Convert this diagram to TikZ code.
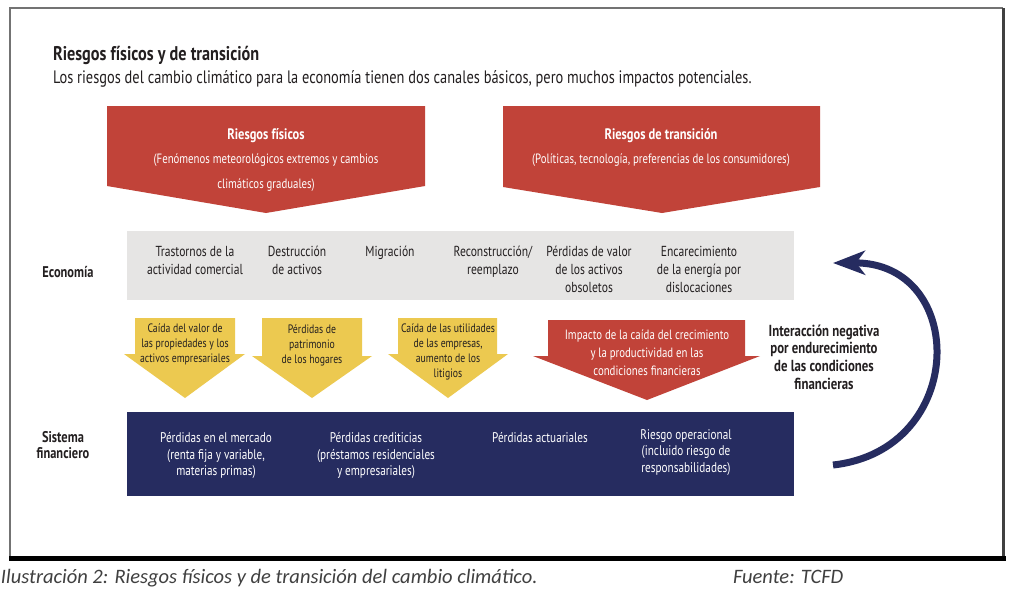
\documentclass[tikz,border=0pt]{standalone}
\usepackage{fontspec}
\setmainfont{PT Sans}[FakeStretch=0.8]
\newfontfamily\titlefont{PT Sans}[FakeStretch=0.82]
\newfontfamily\capfont{Carlito}
\usetikzlibrary{arrows.meta}
\definecolor{redA}{RGB}{193,67,57}
\definecolor{yellowA}{RGB}{236,201,80}
\definecolor{greyA}{RGB}{230,229,228}
\definecolor{navyA}{RGB}{38,44,96}
\definecolor{inkA}{RGB}{35,31,32}
\definecolor{capA}{RGB}{64,64,64}
\newcommand{\redhead}[1]{{\titlefont\bfseries\fontsize{15.2}{24.5}\selectfont #1}}
\begin{document}
\begin{tikzpicture}[x=1pt,y=-1pt,
  every node/.style={inner sep=0pt, outer sep=0pt},
  txt/.style={align=center, anchor=base, text=inkA},
  econ/.style={txt, font=\fontsize{14.5}{18}\selectfont},
  yel/.style={txt, font=\fontsize{12.2}{15}\selectfont},
  redtxt/.style={align=center, anchor=base, text=white, font=\fontsize{13.5}{24.5}\selectfont},
  midred/.style={align=center, anchor=base, text=white, font=\fontsize{13.5}{18}\selectfont},
  bluetxt/.style={align=center, anchor=base, text=white, font=\fontsize{14}{16.5}\selectfont},
  rowlabel/.style={txt, font=\fontsize{15.5}{16}\selectfont\bfseries},
  interlabel/.style={txt, font=\fontsize{16}{17.8}\selectfont\bfseries},
  capt/.style={anchor=base west, text=capA, font=\capfont\itshape\fontsize{20.5}{22}\selectfont}
]
\useasboundingbox (0,0) rectangle (1024,597);
\fill[white] (0,0) rectangle (1024,597);

% frame
\draw[line width=1.5pt, black!55] (10,557) -- (10,8) -- (1003,8);
\draw[line width=2.5pt, black!75] (1003.5,8) -- (1003.5,558);
\draw[line width=5pt, black] (9,558.5) -- (1006,558.5);

% title
\node[anchor=base west, text=inkA, font=\titlefont\fontsize{19.8}{22}\selectfont\bfseries] (title) at (53,60) {Riesgos físicos y de transición};
\node[anchor=base west, text=inkA, font=\fontsize{18}{20}\selectfont] (subtitle) at (53,83) {Los riesgos del cambio climático para la economía tienen dos canales básicos, pero muchos impactos potenciales.};

% red top arrows
\fill[redA] (107,106) -- (425,106) -- (425,186) -- (266,213) -- (107,186) -- cycle;
\fill[redA] (503,106) -- (820,106) -- (820,187) -- (662,213) -- (503,187) -- cycle;
\node[redtxt] (fis) at (266,188) {\redhead{Riesgos físicos}\\(Fenómenos meteorológicos extremos y cambios\\climáticos graduales)};
\node[redtxt] (tra) at (661,163.5) {\redhead{Riesgos de transición}\\(Políticas, tecnología, preferencias de los consumidores)};

% economy band
\fill[greyA] (127,231) rectangle (794,300);
\node[rowlabel] (eco) at (68,277) {Economía};
\node[econ] (e1) at (195,274) {Trastornos de la\\actividad comercial};
\node[econ] (e2) at (297,274) {Destrucción\\de activos};
\node[econ] (e3) at (390,256) {Migración};
\node[econ] (e4) at (493,274) {Reconstrucción/\\reemplazo};
\node[econ] (e5) at (589,292) {Pérdidas de valor\\de los activos\\obsoletos};
\node[econ] (e6) at (699,292) {Encarecimiento\\de la energía por\\dislocaciones};

% yellow arrows
\fill[yellowA] (135,318) -- (235,318) -- (235,354) -- (245,354) -- (185,398) -- (124,354) -- (135,354) -- cycle;
\fill[yellowA] (262,318) -- (362,318) -- (362,356) -- (372,356) -- (312,398) -- (252,356) -- (262,356) -- cycle;
\fill[yellowA] (398,318) -- (497,318) -- (497,354) -- (508,354) -- (448,398) -- (388,354) -- (398,354) -- cycle;
\node[yel] (y1) at (185,362) {Caída del valor de\\las propiedades y los\\activos empresariales};
\node[yel] (y2) at (312,363) {Pérdidas de\\patrimonio\\de los hogares};
\node[yel] (y3) at (448,377) {Caída de las utilidades\\de las empresas,\\aumento de los\\litigios};

% middle red arrow
\fill[redA] (548,320) -- (745,320) -- (745,356) -- (760,356) -- (647,400) -- (533,356) -- (548,356) -- cycle;
\node[midred] (m1) at (647,375) {Impacto de la caída del crecimiento\\y la productividad en las\\condiciones financieras};

\node[interlabel] (inter) at (824,389.4) {Interacción negativa\\por endurecimiento\\de las condiciones\\financieras};

% financial band
\fill[navyA] (127,412) rectangle (794,496);
\node[rowlabel] (sis) at (63,458) {Sistema\\financiero};
\node[bluetxt] (b1) at (216,475.5) {Pérdidas en el mercado\\(renta fija y variable,\\materias primas)};
\node[bluetxt] (b2) at (376,475.5) {Pérdidas crediticias\\(préstamos residenciales\\y empresariales)};
\node[bluetxt] (b3) at (540,442) {Pérdidas actuariales};
\node[bluetxt] (b4) at (686,472) {Riesgo operacional\\(incluido riesgo de\\responsabilidades)};

% feedback arrow
\coordinate (fbstart) at (833,465);
\coordinate (fbend) at (833,263);
\draw[navyA, line width=7pt, -{Stealth[length=32pt, width=24pt, inset=9pt]}]
  (fbstart) .. controls (968,450) and (968,262) .. (fbend);

% caption
\node[capt] (cap) at (1,583) {Ilustración 2: Riesgos físicos y de transición del cambio climático.};
\node[capt] (src) at (733,583) {Fuente: TCFD};
\end{tikzpicture}
\end{document}
